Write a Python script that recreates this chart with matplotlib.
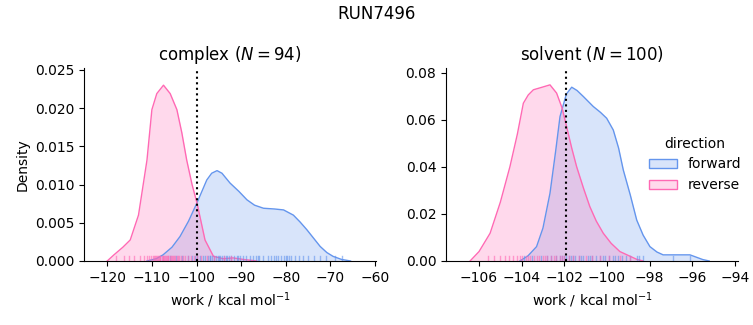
import numpy as np
import matplotlib.pyplot as plt

# density curves (x: work, y: density)
cx_fwd = [-111.1, -109.0, -107.5, -105.5, -103.7, -101.8, -99.9, -97.7, -96.6, -95.4, -94.3, -92.5,
          -90.5, -88.7, -87.0, -85.0, -82.5, -80.5, -78.3, -76.8, -75.3, -73.8, -72.3, -70.8, -69.4, -67.5, -65.5]
cy_fwd = [0.0, 0.0003, 0.0008, 0.0018, 0.0032, 0.0052, 0.0076, 0.0106, 0.01148, 0.01182, 0.01148, 0.0102,
          0.0091, 0.0080, 0.0073, 0.0069, 0.0068, 0.00668, 0.0060, 0.0051, 0.0041, 0.0030, 0.0019, 0.0011, 0.0006, 0.0002, 0.0]
cx_rev = [-120.0, -118.5, -116.5, -114.85, -113.0, -111.1, -110.0, -108.9, -107.4, -105.9, -104.4, -103.3,
          -102.2, -101.0, -99.9, -98.1, -96.2, -94.0, -91.8, -89.5, -86.5]
cy_rev = [0.0, 0.0008, 0.0018, 0.00275, 0.0060, 0.0132, 0.0198, 0.0219, 0.0230, 0.0219, 0.0198, 0.0168,
          0.0132, 0.0100, 0.0076, 0.00275, 0.0006, 0.0003, 0.0004, 0.0002, 0.0]

sx_fwd = [-104.08, -103.7, -103.3, -103.0, -102.67, -102.4, -102.2, -101.9, -101.65, -101.4, -101.1, -100.64,
          -100.3, -100.01, -99.70, -99.45, -99.23, -98.9, -98.6, -98.3, -97.98, -97.65, -97.36, -96.73, -96.1, -95.5, -95.2]
sy_fwd = [0.0, 0.0022, 0.0061, 0.0140, 0.0288, 0.0470, 0.0614, 0.0710, 0.0739, 0.0725, 0.0699, 0.0657,
          0.0632, 0.0607, 0.0557, 0.0480, 0.0387, 0.0280, 0.0174, 0.0110, 0.0061, 0.0038, 0.0026, 0.0026, 0.0026, 0.0006, 0.0]
sx_rev = [-106.42, -106.0, -105.48, -105.0, -104.55, -104.2, -103.92, -103.69, -103.45, -103.0, -102.67, -102.36,
          -102.1, -101.89, -101.65, -101.42, -101.1, -100.8, -100.5, -100.17, -99.8, -99.39, -98.6, -98.3]
sy_rev = [0.0, 0.0040, 0.0118, 0.0250, 0.0401, 0.0540, 0.0671, 0.0706, 0.0728, 0.0740, 0.0749, 0.0714,
          0.0650, 0.0571, 0.0480, 0.0401, 0.0310, 0.0231, 0.0170, 0.0118, 0.0075, 0.0040, 0.0007, 0.0]

# rug positions (individual work values)
rug_c_fwd = [-106.0, -104.5, -103.2, -102.0, -101.1, -100.4, -99.8, -99.2, -98.6, -98.1, -97.5, -97.0, -96.6,
             -96.1, -95.7, -95.2, -94.8, -94.3, -93.9, -93.4, -92.8, -92.2, -91.6, -91.0, -90.3, -89.6, -88.9,
             -88.1, -87.4, -86.6, -85.9, -85.0, -84.1, -83.3, -82.6, -81.8, -81.1, -80.4, -79.7, -78.9, -78.0,
             -77.1, -76.1, -75.0, -73.6, -72.3, -70.9, -68.9, -67.4, -96.9, -95.0, -93.1, -90.7, -86.2, -82.1,
             -80.0, -79.3]
rug_c_rev = [-118.0, -116.2, -115.1, -113.9, -112.6, -111.8, -111.2, -110.7, -110.2, -109.8, -109.4, -109.0,
             -108.7, -108.4, -108.1, -107.8, -107.5, -107.2, -106.9, -106.6, -106.3, -106.0, -105.6, -105.2,
             -104.8, -104.4, -104.0, -103.5, -103.0, -102.5, -102.0, -101.3, -100.6, -99.8, -98.9, -97.6,
             -96.0, -93.8, -92.2, -109.6, -108.9, -108.2, -107.6, -107.0, -106.4, -105.8, -105.0, -104.2]
rug_s_fwd = [-103.9, -103.5, -103.1, -102.8, -102.6, -102.4, -102.2, -102.0, -101.8, -101.7, -101.5, -101.3,
             -101.1, -100.9, -100.7, -100.5, -100.3, -100.1, -99.9, -99.7, -99.5, -99.3, -99.1, -98.9, -98.6,
             -98.3, -98.5, -96.9, -96.1, -102.1, -101.9, -101.6, -101.2, -100.8, -100.2, -99.6]
rug_s_rev = [-105.6, -105.3, -105.0, -104.8, -104.6, -104.4, -104.2, -104.0, -103.8, -103.6, -103.4, -103.2,
             -103.0, -102.8, -102.6, -102.4, -102.2, -102.0, -101.8, -101.6, -101.3, -101.0, -100.7, -100.3,
             -99.9, -99.4, -98.9, -104.1, -103.7, -103.3, -102.9, -102.5, -102.1]

blue = '#6495ED'
pink = '#FF69B4'

fig = plt.figure(figsize=(7.53, 3.25), dpi=100)
ax1 = fig.add_axes([0.1116, 0.197, 0.3877, 0.594])
ax2 = fig.add_axes([0.5923, 0.197, 0.3877, 0.594])


def draw(ax, xf, yf, xr, yr, rf, rr, vline):
    ax.fill_between(xf, yf, color=blue, alpha=0.25, lw=0)
    ax.plot(xf, yf, color=blue, lw=1)
    ax.fill_between(xr, yr, color=pink, alpha=0.25, lw=0)
    ax.plot(xr, yr, color=pink, lw=1)
    for v in rf:
        ax.axvline(v, ymin=0, ymax=0.025, color=blue, lw=1, alpha=0.6)
    for v in rr:
        ax.axvline(v, ymin=0, ymax=0.025, color=pink, lw=1, alpha=0.6)
    ax.axvline(vline, color='black', ls=':', lw=1.5)
    ax.spines['top'].set_visible(False)
    ax.spines['right'].set_visible(False)
    ax.set_xlabel('work / kcal mol$^{-1}$')


draw(ax1, cx_fwd, cy_fwd, cx_rev, cy_rev, rug_c_fwd, rug_c_rev, -100.0)
ax1.set_xlim(-125.2, -59.8)
ax1.set_ylim(0, 0.02526)
ax1.set_xticks([-120, -110, -100, -90, -80, -70, -60])
ax1.set_yticks([0, 0.005, 0.01, 0.015, 0.02, 0.025])
ax1.set_yticklabels(['0.000', '0.005', '0.010', '0.015', '0.020', '0.025'])
ax1.set_ylabel('Density')
ax1.set_title('complex ($N = 94$)')

draw(ax2, sx_fwd, sy_fwd, sx_rev, sy_rev, rug_s_fwd, rug_s_rev, -101.9)
ax2.set_xlim(-107.55, -93.85)
ax2.set_ylim(0, 0.0821)
ax2.set_xticks([-106, -104, -102, -100, -98, -96, -94])
ax2.set_yticks([0, 0.02, 0.04, 0.06, 0.08])
ax2.set_yticklabels(['0.00', '0.02', '0.04', '0.06', '0.08'])
ax2.set_title('solvent ($N = 100$)')

handles = [plt.Rectangle((0, 0), 1, 1, facecolor=(0.392, 0.584, 0.929, 0.25), edgecolor=blue),
           plt.Rectangle((0, 0), 1, 1, facecolor=(1.0, 0.412, 0.706, 0.25), edgecolor=pink)]
ax2.legend(handles, ['forward', 'reverse'], title='direction', loc='center right',
           frameon=False, bbox_to_anchor=(1.055, 0.5))

fig.suptitle('RUN7496', y=0.985)
fig.savefig('out.png', dpi=100)
